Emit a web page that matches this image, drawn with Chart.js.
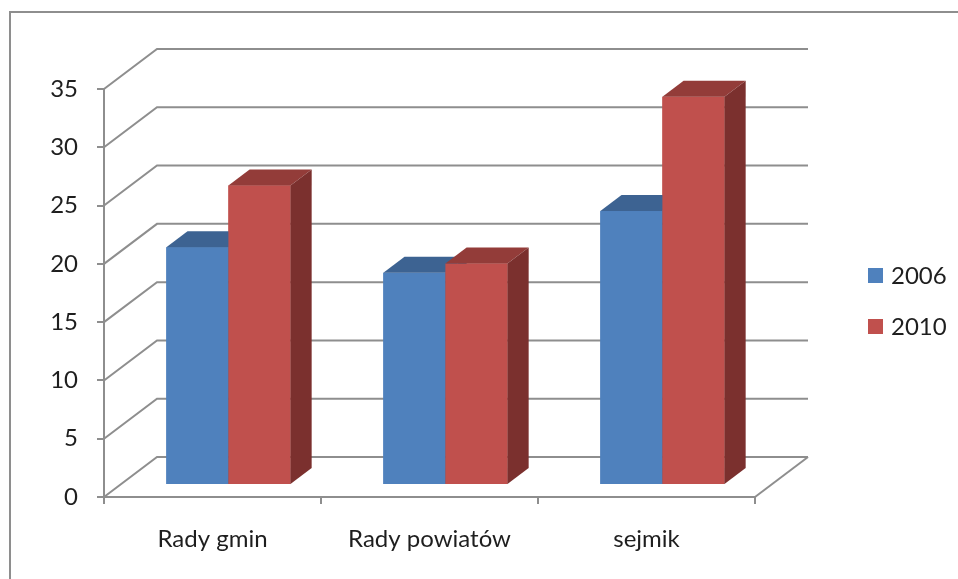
<!DOCTYPE html>
<html>
<head>
<meta charset="utf-8">
<script src="https://cdn.jsdelivr.net/npm/chart.js@4.4.1/dist/chart.umd.min.js"></script>
<style>
  html, body { margin: 0; padding: 0; background: #ffffff; }
  #wrap { position: relative; width: 958px; height: 579px; }
  canvas { display: block; }
</style>
</head>
<body>
<div id="wrap"><canvas id="c" width="958" height="579"></canvas></div>
<script>
// Categories and series
const categories = ['Rady gmin', 'Rady powiatów', 'sejmik'];
const values2006 = [20.4, 18.2, 23.5];
const values2010 = [25.7, 19.0, 33.3];
const seriesLabels = ['2006', '2010'];
const yTicks = [0, 5, 10, 15, 20, 25, 30, 35];

// Styling
const FONT = 'Lato, "Open Sans", sans-serif';
const GRID = '#8e8e8e';
const TEXT = '#1e1e1e';
const faceColors = [
  { front: '#4F81BD', top: '#3D6392', side: '#385D89' },
  { front: '#C0504D', top: '#933C39', side: '#7B302E' }
];
// Oblique depth of the plot box, and where the bars sit inside it
const DEPTH = { x: 53, y: -40 };
const BAR_FRONT = 0.3, BAR_BACK = 0.7;

// Back wall, side wall and floor of the 3-D box; then shift the bar plane back
const wallsPlugin = {
  id: 'walls',
  beforeDatasetsDraw(chart) {
    const { ctx, chartArea: a, scales: { y } } = chart;
    ctx.save();
    ctx.strokeStyle = GRID;
    ctx.lineWidth = 2;
    ctx.lineCap = 'butt';
    yTicks.forEach(v => {
      const py = y.getPixelForValue(v);
      ctx.beginPath();
      ctx.moveTo(a.left, py);
      ctx.lineTo(a.left + DEPTH.x, py + DEPTH.y);
      ctx.lineTo(a.right + DEPTH.x, py + DEPTH.y);
      ctx.stroke();
    });
    const p0 = y.getPixelForValue(0);
    ctx.beginPath();
    ctx.moveTo(a.right, p0);
    ctx.lineTo(a.right + DEPTH.x, p0 + DEPTH.y);
    ctx.stroke();
    ctx.restore();
    // bars are drawn in a plane set back inside the box
    ctx.save();
    ctx.translate(DEPTH.x * BAR_FRONT, DEPTH.y * BAR_FRONT);
  }
};

// Front, top and side faces of each bar, drawn category by category
const barsPlugin = {
  id: 'bars3d',
  afterDatasetsDraw(chart) {
    const { ctx } = chart;
    const dx = DEPTH.x * (BAR_BACK - BAR_FRONT), dy = DEPTH.y * (BAR_BACK - BAR_FRONT);
    const metas = chart.data.datasets.map((d, i) => chart.getDatasetMeta(i));
    categories.forEach((c, j) => {
      metas.forEach((meta, i) => {
        const el = meta.data[j];
        const { x, y, base, width } = el.getProps(['x', 'y', 'base', 'width'], true);
        const l = x - width / 2, r = x + width / 2;
        const col = faceColors[i];
        ctx.fillStyle = col.front;
        ctx.fillRect(l, y, r - l, base - y);
        ctx.fillStyle = col.top;
        ctx.beginPath();
        ctx.moveTo(l, y); ctx.lineTo(r, y);
        ctx.lineTo(r + dx, y + dy); ctx.lineTo(l + dx, y + dy);
        ctx.closePath(); ctx.fill();
        ctx.fillStyle = col.side;
        ctx.beginPath();
        ctx.moveTo(r, y); ctx.lineTo(r + dx, y + dy);
        ctx.lineTo(r + dx, base + dy); ctx.lineTo(r, base);
        ctx.closePath(); ctx.fill();
      });
    });
    ctx.restore();
  }
};

// Legend to the right of the plot, plus the chart frame
const legendPlugin = {
  id: 'sideLegend',
  afterDraw(chart) {
    const { ctx } = chart;
    ctx.save();
    ctx.strokeStyle = GRID;
    ctx.lineWidth = 2;
    ctx.beginPath();
    ctx.moveTo(10, 590); ctx.lineTo(10, 12); ctx.lineTo(970, 12);
    ctx.stroke();
    ctx.font = '24px ' + FONT;
    ctx.textBaseline = 'middle';
    ctx.textAlign = 'left';
    chart.data.datasets.forEach((ds, i) => {
      const cy = 275.5 + i * 51;
      ctx.fillStyle = faceColors[i].front;
      ctx.fillRect(868, cy - 7.5, 15, 15);
      ctx.fillStyle = TEXT;
      ctx.fillText(ds.label, 891, cy + 1);
    });
    ctx.restore();
  }
};

new Chart(document.getElementById('c'), {
  type: 'bar',
  data: {
    labels: categories,
    datasets: [
      { label: seriesLabels[0], data: values2006, backgroundColor: faceColors[0].front, clip: false },
      { label: seriesLabels[1], data: values2010, backgroundColor: faceColors[1].front, clip: false }
    ]
  },
  options: {
    responsive: false,
    animation: false,
    devicePixelRatio: 1,
    layout: { padding: { left: 0, top: 89, right: 203, bottom: 0 } },
    datasets: { bar: { categoryPercentage: 0.572, barPercentage: 1.0 } },
    plugins: { legend: { display: false }, tooltip: { enabled: false } },
    scales: {
      x: {
        afterFit(s) { s.height = 82; },
        grid: { drawOnChartArea: false, drawTicks: true, tickLength: 7, color: GRID, lineWidth: 2 },
        border: { display: true, color: GRID, width: 2 },
        ticks: { color: TEXT, font: { family: FONT, size: 24 }, padding: 21, maxRotation: 0 }
      },
      y: {
        min: 0, max: 35,
        afterFit(s) { s.width = 104; },
        afterBuildTicks(s) { s.ticks = yTicks.map(v => ({ value: v })); },
        grid: { drawOnChartArea: false, drawTicks: true, tickLength: 7, color: GRID, lineWidth: 2 },
        border: { display: true, color: GRID, width: 2 },
        ticks: { color: TEXT, font: { family: FONT, size: 24 }, padding: 19 }
      }
    }
  },
  plugins: [wallsPlugin, barsPlugin, legendPlugin]
});
</script>
</body>
</html>
